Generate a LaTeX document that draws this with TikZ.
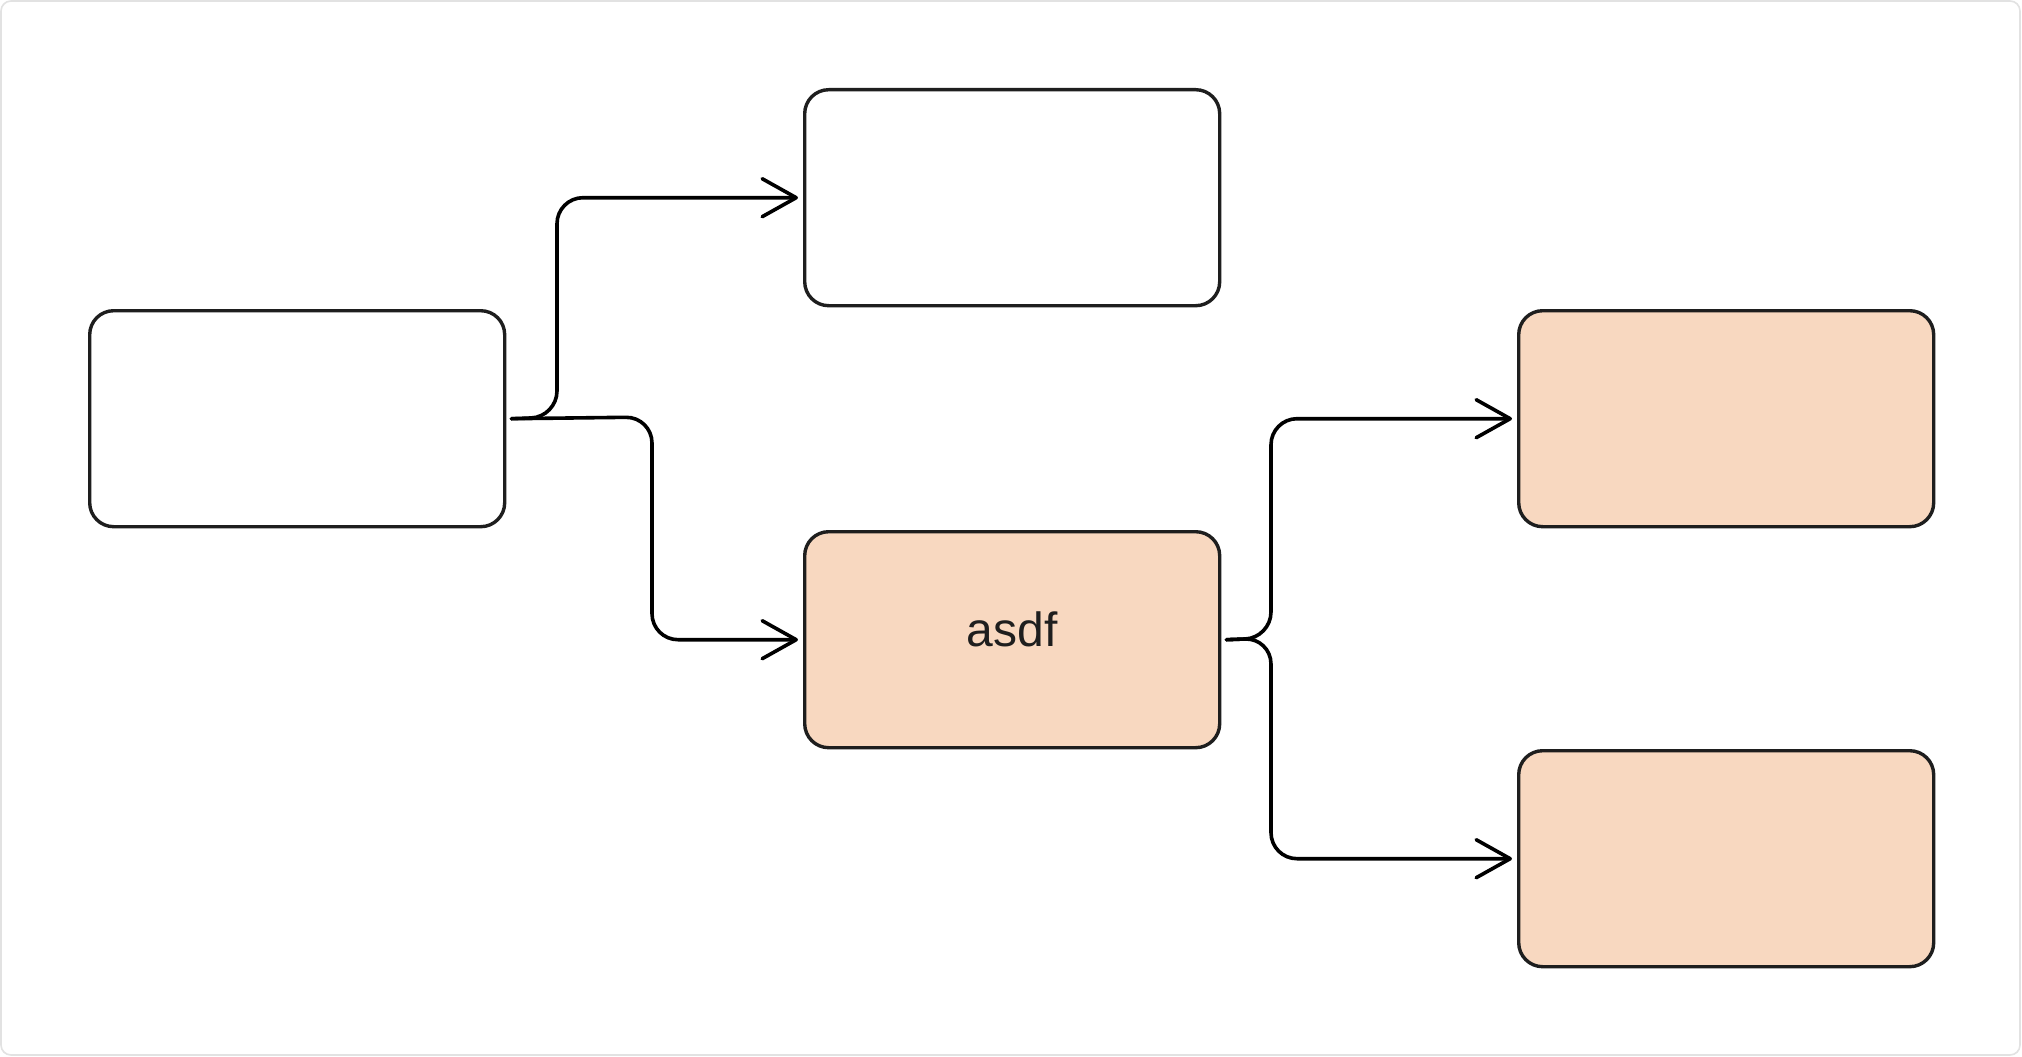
\documentclass[tikz,border=0pt]{standalone}
\usepackage{fontspec}
\setmainfont{Liberation Sans}
\usetikzlibrary{arrows.meta}
\definecolor{ink}{HTML}{1E1E1E}
\definecolor{peach}{HTML}{F8D8C0}
\definecolor{frame}{HTML}{E2E2E2}
\begin{document}
\begin{tikzpicture}[x=1pt,y=-1pt,
  box/.style={draw=ink,line width=3.4pt,rounded corners=24pt,inner sep=0pt,
    minimum width=415pt,minimum height=216pt,anchor=north west},
  filled/.style={box,fill=peach},
  conn/.style={draw=black,line width=3.6pt,line cap=round,rounded corners=26pt,
    -{Straight Barb[length=34pt,width=38pt,round]}}]
\useasboundingbox (0,0) rectangle (2022,1057);
\fill[white] (0,0) rectangle (2022,1057);
\draw[frame,line width=1.6pt,rounded corners=10pt] (1,1) rectangle (2020,1055);
\node[box] (A) at (88,309) {};
\node[box] (B) at (803,88) {};
\node[filled,text=ink,font=\fontsize{48}{58}\selectfont,text height=35pt,text depth=21pt] (C) at (803,530) {asdf};
\node[filled] (D) at (1517,309) {};
\node[filled] (E) at (1517,749) {};
\coordinate (a1) at ([xshift=5pt]A.east);
\coordinate (c1) at ([xshift=5pt]C.east);
\draw[conn] (a1) -- (557,417) |- ([xshift=-5pt]B.west);
\draw[conn] (a1) -- (652,417) |- ([xshift=-5pt]C.west);
\draw[conn] (c1) -- (1271,638) |- ([xshift=-5pt]D.west);
\draw[conn] (c1) -- (1271,638) |- ([xshift=-5pt]E.west);
\end{tikzpicture}
\end{document}
